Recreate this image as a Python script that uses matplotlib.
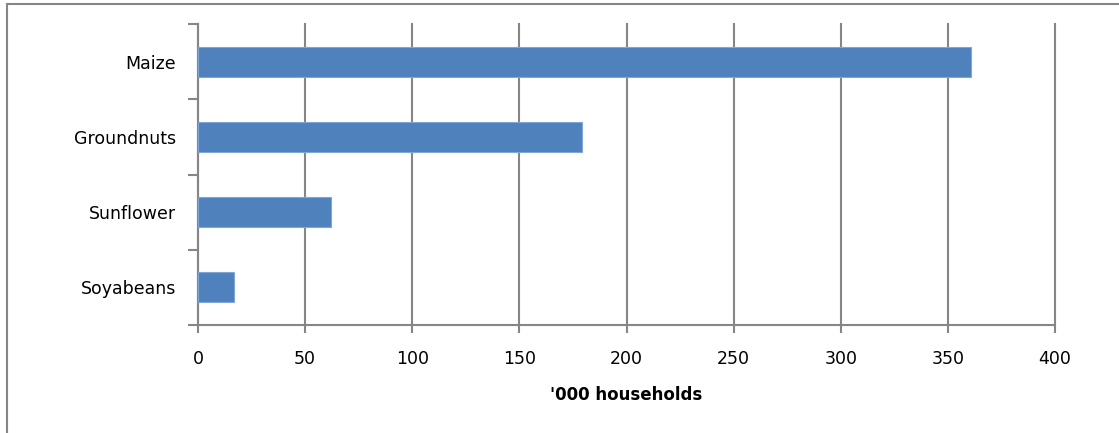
import numpy as np
import matplotlib.pyplot as plt
from matplotlib.patches import Rectangle

# Households growing each crop ('000)
crops = ['Maize', 'Groundnuts', 'Sunflower', 'Soyabeans']
households = [361, 179, 62, 17]

x_ticks = [0, 50, 100, 150, 200, 250, 300, 350, 400]

grey = '#868686'
fig = plt.figure(figsize=(11.19, 4.33), dpi=100)
ax = fig.add_axes([198 / 1119, 1 - 325 / 433, (1055 - 198) / 1119, (325 - 24) / 433])

y_pos = np.arange(len(crops))[::-1]
ax.barh(y_pos, households, height=0.4, color='#4F81BD', edgecolor='#7FA6D6',
        linewidth=0.8, zorder=3)

ax.set_xlim(0, 400)
ax.set_ylim(-0.5, len(crops) - 0.5)
ax.set_xticks(x_ticks)
ax.set_xticklabels([str(t) for t in x_ticks])
ax.xaxis.grid(True, color=grey, linewidth=1.5, zorder=0)
for gl in ax.get_xgridlines():
    gl.set_clip_on(False)

# category labels sit between the boundary ticks
ax.set_yticks(y_pos)
ax.set_yticklabels(crops)
ax.set_yticks(np.arange(-0.5, len(crops), 1), minor=True)
ax.tick_params(axis='y', which='major', length=0, pad=16, labelsize=12.5)
ax.tick_params(axis='y', which='minor', length=7, width=1.5, color=grey)
ax.tick_params(axis='x', length=6, width=1.5, color=grey, pad=12, labelsize=12.5)

for side in ['top', 'right']:
    ax.spines[side].set_visible(False)
for side in ['left', 'bottom']:
    ax.spines[side].set_color(grey)
    ax.spines[side].set_linewidth(1.5)

ax.set_xlabel("'000 households", fontsize=12, fontweight='bold', labelpad=13)

# outer chart border
fig.patches.append(Rectangle((7 / 1119, -0.1), 1.2, 1 - 4 / 433 + 0.1,
                             transform=fig.transFigure, fill=False,
                             edgecolor=grey, linewidth=1.5))

fig.savefig('out.png', dpi=100)
